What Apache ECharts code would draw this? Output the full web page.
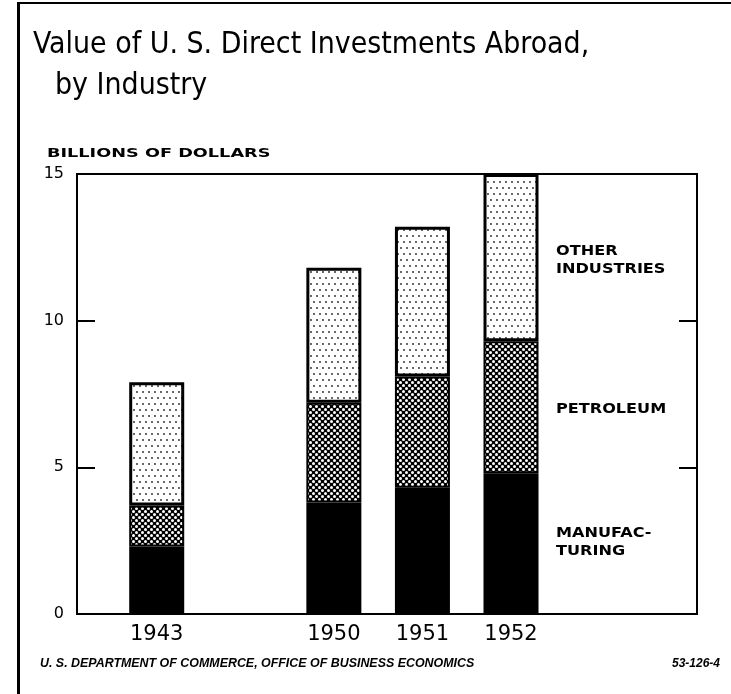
<!DOCTYPE html>
<html>
<head>
<meta charset="utf-8">
<style>html,body{margin:0;padding:0;background:#fff}#chart{width:731px;height:694px}</style>
</head>
<body>
<div id="chart"></div>
<script src="https://cdn.jsdelivr.net/npm/echarts@6/dist/echarts.min.js"></script>
<script>
// billions of dollars
var years = ['1943', '1950', '1951', '1952'];
var yearPos = [0, 2, 3, 4];          // 1944-49 left out, one empty slot
var manufacturing = [2.3, 3.8, 4.3, 4.8];
var petroleum = [1.4, 3.4, 3.8, 4.5];
var otherIndustries = [4.2, 4.6, 5.1, 5.7];
var yTicks = [0, 5, 10, 15];

function pattern(size, bg, fg, dots, r) {
  var c = document.createElement('canvas');
  c.width = c.height = size;
  var ctx = c.getContext('2d');
  ctx.fillStyle = bg;
  ctx.fillRect(0, 0, size, size);
  ctx.fillStyle = fg;
  dots.forEach(function (d) {
    ctx.beginPath();
    ctx.arc(d[0], d[1], r, 0, Math.PI * 2);
    ctx.fill();
  });
  return { image: c, repeat: 'repeat' };
}

// value first so that the stack runs on y, not on x
function pairs(vals) {
  return vals.map(function (v, i) { return [v, yearPos[i]]; });
}

var dotted = pattern(12, '#fff', '#222', [[2, 2], [8, 2], [5, 8], [11, 8]], 0.9);
var hatched = pattern(6, '#000', '#fff', [[1.5, 1.5], [4.5, 4.5]], 1.5);

var font = 'DejaVu Sans';
var titleFont = '31px "Liberation Sans Narrow", "DejaVu Sans Condensed", sans-serif';
var chart = echarts.init(document.getElementById('chart'));

var barBase = { type: 'bar', stack: 'total', barWidth: 55, encode: { x: 1, y: 0 } };

var option = {
  animation: false,
  grid: { left: 77, right: 34, top: 174, bottom: 80, show: true, borderColor: '#000', borderWidth: 2 },
  xAxis: {
    type: 'value', min: -0.9, max: 6.1,
    splitLine: { show: false }, axisLine: { show: false, onZero: false }, axisTick: { show: false },
    axisLabel: {
      customValues: yearPos, margin: 10, color: '#000', fontSize: 21, fontFamily: font,
      formatter: function (v) { return years[yearPos.indexOf(v)]; }
    }
  },
  yAxis: [{
    type: 'value', min: 0, max: 15, interval: 5,
    splitLine: { show: false }, axisLine: { show: false, onZero: false },
    axisTick: { inside: true, length: 18, lineStyle: { color: '#000', width: 2 } },
    axisLabel: { margin: 13, color: '#000', fontSize: 16, fontFamily: font, customValues: yTicks }
  }, {
    type: 'value', min: 0, max: 15, interval: 5, position: 'right',
    splitLine: { show: false }, axisLine: { show: false, onZero: false },
    axisTick: { inside: true, length: 18, lineStyle: { color: '#000', width: 2 } },
    axisLabel: { show: false }
  }],
  series: [
    Object.assign({ name: 'Manufacturing', data: pairs(manufacturing),
      itemStyle: { color: '#000', borderColor: '#000', borderWidth: 2 } }, barBase),
    Object.assign({ name: 'Petroleum', data: pairs(petroleum),
      itemStyle: { color: hatched, borderColor: '#000', borderWidth: 2 } }, barBase),
    Object.assign({ name: 'Other industries', data: pairs(otherIndustries),
      itemStyle: { color: dotted, borderColor: '#000', borderWidth: 3 } }, barBase)
  ],
  graphic: [
    { type: 'rect', shape: { x: 17, y: 2, width: 3, height: 692 }, style: { fill: '#000' } },
    { type: 'rect', shape: { x: 17, y: 2, width: 714, height: 2 }, style: { fill: '#000' } },
    { type: 'text', x: 33, y: 29, scaleX: 0.965, style: { text: 'Value of U. S. Direct Investments Abroad,', font: titleFont, fill: '#000' } },
    { type: 'text', x: 55, y: 70, scaleX: 0.965, style: { text: 'by Industry', font: titleFont, fill: '#000' } },
    { type: 'text', x: 47, y: 147, scaleX: 1.36, style: { text: 'BILLIONS OF DOLLARS', font: '600 13px "DejaVu Sans"', fill: '#000' } },
    { type: 'text', x: 556, y: 242, scaleX: 1.15, style: { text: 'OTHER\nINDUSTRIES', font: 'bold 14px "DejaVu Sans"', lineHeight: 18, fill: '#000' } },
    { type: 'text', x: 556, y: 402, scaleX: 1.15, style: { text: 'PETROLEUM', font: 'bold 14px "DejaVu Sans"', fill: '#000' } },
    { type: 'text', x: 556, y: 524, scaleX: 1.15, style: { text: 'MANUFAC-\nTURING', font: 'bold 14px "DejaVu Sans"', lineHeight: 18, fill: '#000' } },
    { type: 'text', x: 40, y: 658, scaleX: 1.035, style: { text: 'U. S. DEPARTMENT OF COMMERCE, OFFICE OF BUSINESS ECONOMICS', font: 'italic bold 12px "Liberation Sans"', fill: '#000' } },
    { type: 'text', x: 672, y: 658, style: { text: '53-126-4', font: 'italic bold 12px "Liberation Sans"', fill: '#000' } }
  ]
};

chart.setOption(option);
</script>
</body>
</html>
